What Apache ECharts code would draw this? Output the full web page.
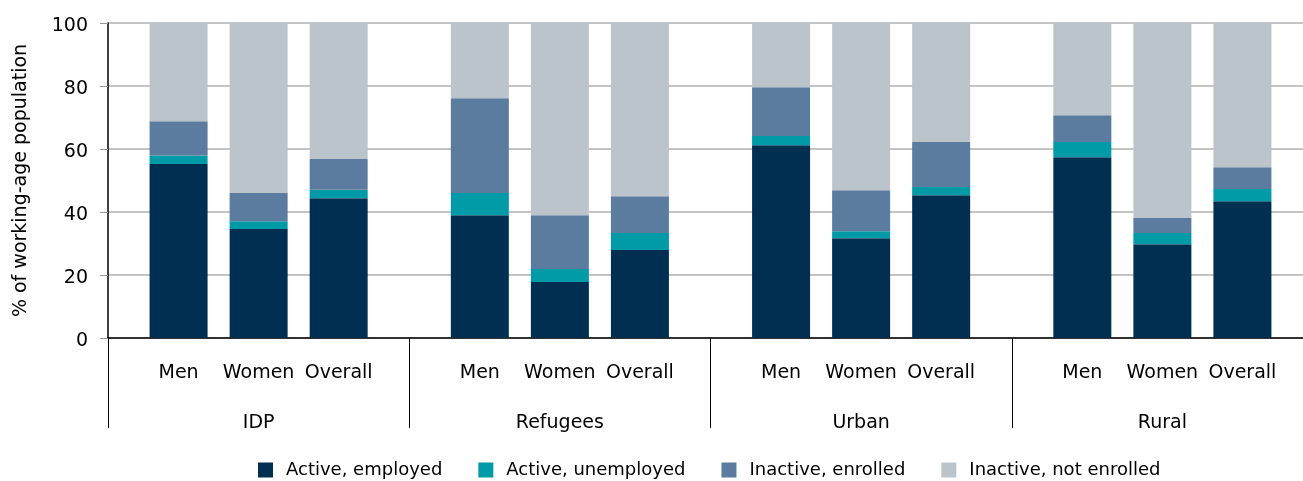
<!DOCTYPE html>
<html>
<head>
<meta charset="utf-8">
<script src="https://cdn.jsdelivr.net/npm/echarts@6/dist/echarts.min.js"></script>
<style>
html,body{margin:0;padding:0;background:#fff;}
#chart{width:1303px;height:481px;}
</style>
</head>
<body>
<div id="chart"></div>
<script>
const groups = ['IDP', 'Refugees', 'Urban', 'Rural'];
const subgroups = ['Men', 'Women', 'Overall'];
const segments = ['Active, employed', 'Active, unemployed', 'Inactive, enrolled', 'Inactive, not enrolled'];
const yTicks = [0, 20, 40, 60, 80, 100];

// values per group: IDP, Refugees, Urban, Rural
const employedMen = [55.2, 39.0, 61.2, 57.4];
const employedWomen = [34.6, 17.8, 31.7, 29.8];
const employedOverall = [44.4, 27.9, 45.3, 43.4];
const unemployedMen = [2.7, 7.0, 2.9, 4.8];
const unemployedWomen = [2.5, 4.1, 2.2, 3.5];
const unemployedOverall = [2.7, 5.4, 2.6, 3.9];
const enrolledMen = [10.9, 30.1, 15.5, 8.5];
const enrolledWomen = [8.9, 17.1, 13.0, 4.8];
const enrolledOverall = [9.7, 11.7, 14.3, 6.9];
const notEnrolledMen = [31.2, 23.9, 20.4, 29.3];
const notEnrolledWomen = [54.0, 61.0, 53.1, 61.9];
const notEnrolledOverall = [43.2, 55.0, 37.8, 45.8];

const colors = ['#002F52', '#009BA6', '#5B7C9E', '#BCC4CB'];
const FONT = 'DejaVu Sans';

const table = [
  [employedMen, employedWomen, employedOverall],
  [unemployedMen, unemployedWomen, unemployedOverall],
  [enrolledMen, enrolledWomen, enrolledOverall],
  [notEnrolledMen, notEnrolledWomen, notEnrolledOverall]
];

const series = [];
segments.forEach((seg, si) => {
  subgroups.forEach((sub, gi) => {
    const s = {
      name: seg,
      type: 'bar',
      stack: sub,
      barWidth: 58,
      barGap: '38%',
      itemStyle: { color: colors[si] },
      data: table[si][gi],
      emphasis: { disabled: true }
    };
    if (si === 0) {
      s.label = {
        show: true,
        position: 'bottom',
        distance: 26,
        formatter: () => sub,
        color: '#000',
        fontFamily: FONT,
        fontSize: 19
      };
    }
    series.push(s);
  });
});

const chart = echarts.init(document.getElementById('chart'), null, { renderer: 'canvas' });
chart.setOption({
  animation: false,
  backgroundColor: '#fff',
  textStyle: { fontFamily: FONT },
  grid: { left: 108, right: -10, top: 23, bottom: 143, containLabel: false, outerBoundsMode: 'none' },
  legend: {
    data: segments,
    left: 258,
    top: 461,
    padding: 0,
    icon: 'rect',
    itemWidth: 15,
    itemHeight: 15,
    itemGap: 36,
    textStyle: { fontFamily: FONT, fontSize: 18, color: '#000', padding: [0, 0, 0, 8] }
  },
  xAxis: {
    type: 'category',
    data: groups,
    boundaryGap: true,
    axisLine: { show: true, lineStyle: { color: '#000', width: 1.5 } },
    axisTick: { show: true, interval: 0, length: 90, lineStyle: { color: '#000', width: 1 } },
    axisLabel: { margin: 76, color: '#000', fontFamily: FONT, fontSize: 19, interval: 0 }
  },
  yAxis: {
    type: 'value',
    min: 0,
    max: 100,
    interval: 20,
    name: '% of working-age population',
    nameLocation: 'middle',
    nameGap: 77,
    nameTextStyle: { color: '#000', fontFamily: FONT, fontSize: 19 },
    axisLine: { show: true, lineStyle: { color: '#000', width: 1.5 } },
    axisTick: { show: true, length: 8, lineStyle: { color: '#999', width: 1 } },
    axisLabel: {
      margin: 20, color: '#000', fontFamily: FONT, fontSize: 19,
      formatter: v => yTicks.includes(v) ? '{a|' + v + '}' : '',
      rich: { a: { fontFamily: FONT, fontSize: 19, color: '#000', padding: [6, 0, 0, 0] } }
    },
    splitLine: { show: true, lineStyle: { color: '#b0b0b0', width: 1.5 } }
  },
  series: series
});
</script>
</body>
</html>
